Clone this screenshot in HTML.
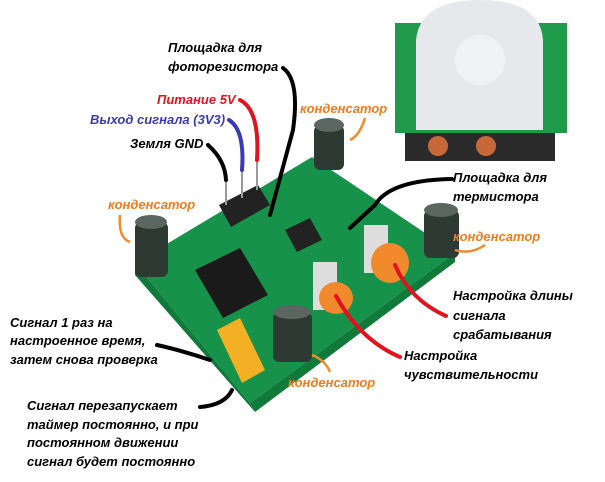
<!DOCTYPE html>
<html><head><meta charset="utf-8"><style>
html,body{margin:0;padding:0;background:#fff;}
svg text{font-family:"Liberation Sans","Noto Sans CJK SC",sans-serif;font-style:italic;font-weight:bold;font-size:13px;}
</style></head><body>
<svg width="605" height="477" viewBox="0 0 605 477" xmlns="http://www.w3.org/2000/svg">
<!-- PIR module top right -->
<rect x="395" y="23" width="172" height="110" fill="#1f9a4a"/>
<rect x="405" y="133" width="150" height="28" fill="#2a2a2a"/>
<ellipse cx="438" cy="146" rx="10" ry="10" fill="#c8683a"/>
<ellipse cx="486" cy="146" rx="10" ry="10" fill="#c8683a"/>
<path d="M416,130 L416,40 Q420,0 480,0 Q540,0 543,40 L543,130 Z" fill="#e6e8ec"/>
<circle cx="480" cy="60" r="25" fill="#f0f1f4"/>
<!-- main PCB -->
<polygon points="135,263 312,157 455,253 250,403" fill="#17924a"/>
<polygon points="135,263 250,403 255,412 135,275" fill="#0f7a3a"/>
<polygon points="250,403 455,253 455,262 255,412" fill="#0f7a3a"/>
<!-- IC -->
<polygon points="195,270 240,248 268,295 223,318" fill="#1a1a1a"/>
<!-- header -->
<polygon points="219,205 258,185 270,205 231,227" fill="#222"/>
<line x1="226" y1="180" x2="226" y2="205" stroke="#999" stroke-width="2"/>
<line x1="242" y1="170" x2="242" y2="198" stroke="#999" stroke-width="2"/>
<line x1="257" y1="162" x2="257" y2="190" stroke="#999" stroke-width="2"/>
<!-- pots -->
<rect x="313" y="262" width="24" height="48" fill="#ddd"/>
<rect x="364" y="225" width="24" height="48" fill="#ddd"/>
<ellipse cx="336" cy="298" rx="17" ry="16" fill="#f08a2c"/>
<ellipse cx="390" cy="263" rx="19" ry="20" fill="#f08a2c"/>
<polygon points="285,230 310,218 322,240 297,252" fill="#222"/>
<!-- capacitors -->
<rect x="314" y="125" width="30" height="45" rx="6" fill="#2d3a33"/>
<ellipse cx="329" cy="125" rx="15" ry="7" fill="#5a6660"/>
<rect x="135" y="222" width="33" height="55" rx="6" fill="#2d3a33"/>
<ellipse cx="151" cy="222" rx="16" ry="7" fill="#5a6660"/>
<rect x="424" y="210" width="35" height="48" rx="6" fill="#2d3a33"/>
<ellipse cx="441" cy="210" rx="17" ry="7" fill="#5a6660"/>
<rect x="273" y="312" width="39" height="50" rx="6" fill="#2d3a33"/>
<ellipse cx="292" cy="312" rx="19" ry="7" fill="#5a6660"/>
<!-- jumper -->
<polygon points="217,330 240,318 265,370 242,383" fill="#f3b024"/>
<!-- leader lines -->
<g fill="none" stroke-width="4" stroke-linecap="round">
<path d="M283,68 Q300,80 293,130 L270,215" stroke="#000"/>
<path d="M240,100 Q260,110 257,160" stroke="#e0141e"/>
<path d="M229,120 Q245,130 242,170" stroke="#3a3ab8"/>
<path d="M208,145 Q225,160 226,180" stroke="#000"/>
<path d="M452,179 Q390,180 375,205 L350,228" stroke="#000"/>
<path d="M446,316 Q410,300 395,265" stroke="#e0141e"/>
<path d="M400,357 Q360,340 336,296" stroke="#e0141e"/>
<path d="M157,345 Q180,350 210,360" stroke="#000"/>
<path d="M200,407 Q225,405 232,390" stroke="#000"/>
</g>
<g fill="none" stroke="#f08a2c" stroke-width="2.5">
<path d="M365,118 Q360,135 350,140"/>
<path d="M120,215 Q118,238 130,242"/>
<path d="M485,245 Q470,255 455,250"/>
<path d="M330,372 Q325,360 312,355"/>
</g>
<!-- labels -->
<text x="168" y="52" fill="#000">Площадка для</text>
<text x="168" y="71" fill="#000">фоторезистора</text>
<text x="157" y="104" fill="#e0141e">Питание 5V</text>
<text x="90" y="124" fill="#3a3ab8">Выход сигнала (3V3)</text>
<text x="130" y="148" fill="#000">Земля GND</text>
<text x="300" y="113" fill="#f07c1e">конденсатор</text>
<text x="108" y="209" fill="#f07c1e">конденсатор</text>
<text x="453" y="182" fill="#000">Площадка для</text>
<text x="453" y="201" fill="#000">термистора</text>
<text x="453" y="241" fill="#f07c1e">конденсатор</text>
<text x="453" y="300" fill="#000">Настройка длины</text>
<text x="453" y="320" fill="#000">сигнала</text>
<text x="453" y="339" fill="#000">срабатывания</text>
<text x="404" y="360" fill="#000">Настройка</text>
<text x="404" y="379" fill="#000">чувствительности</text>
<text x="288" y="387" fill="#f07c1e">конденсатор</text>
<text x="10" y="327" fill="#000">Сигнал 1 раз на</text>
<text x="10" y="345" fill="#000">настроенное время,</text>
<text x="10" y="364" fill="#000">затем снова проверка</text>
<text x="27" y="410" fill="#000">Сигнал перезапускает</text>
<text x="27" y="429" fill="#000">таймер постоянно, и при</text>
<text x="27" y="447" fill="#000">постоянном движении</text>
<text x="27" y="466" fill="#000">сигнал будет постоянно</text>
</svg>
</body></html>
